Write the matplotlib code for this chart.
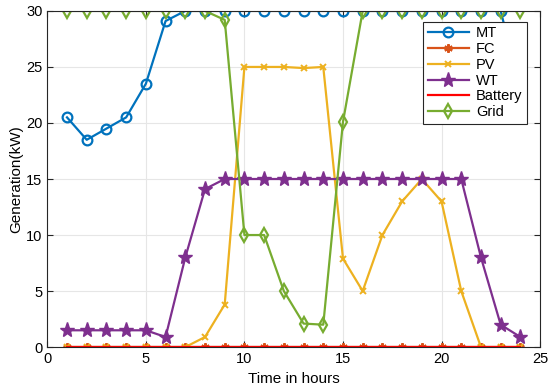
import numpy as np
import matplotlib.pyplot as plt

plt.rcParams['font.family'] = ['Liberation Sans', 'DejaVu Sans']

hours = np.arange(1, 25)
mt = [20.5, 18.5, 19.5, 20.5, 23.5, 29.1, 30, 30, 30, 30, 30, 30,
      30, 30, 30, 30, 30, 30, 30, 30, 30, 30, 30, 23]
fc = [0] * 24
pv = [0, 0, 0, 0, 0, 0, 0, 0.9, 3.8, 25, 25, 25,
      24.9, 25, 7.9, 5, 10, 13, 15, 13, 5, 0, 0, 0]
wt = [1.5, 1.5, 1.5, 1.5, 1.5, 0.9, 8, 14.1, 15, 15, 15, 15,
      15, 15, 15, 15, 15, 15, 15, 15, 15, 8, 2, 0.9]
battery = [0] * 24
grid = [30, 30, 30, 30, 30, 30, 30, 30, 29.2, 10, 10, 5,
        2.1, 2, 20.1, 30, 30, 30, 30, 30, 30, 30, 30, 30]

fig = plt.figure(figsize=(5.5, 3.9), dpi=100)
ax = fig.add_axes([0.086, 0.11, 0.896, 0.862])

ax.plot(hours, mt, color='#0072BD', lw=1.6, marker='o', ms=7, mfc='none', mew=1.6, label='MT')
ax.plot(hours, fc, color='#D95319', lw=1.6, marker=(6, 2, 0), ms=6, mew=1.6, label='FC')
ax.plot(hours, pv, color='#EDB120', lw=1.6, marker='x', ms=5, mew=1.4, label='PV')
ax.plot(hours, wt, color='#7E2F8E', lw=1.6, marker='*', ms=11, label='WT')
ax.plot(hours, battery, color='#FF0000', lw=1.6, label='Battery')
ax.plot(hours, grid, color='#77AC30', lw=1.6, marker='d', ms=7, mfc='none', mew=1.6, label='Grid')

ax.set_xlim(0, 25)
ax.set_ylim(0, 30)
ax.set_xticks([0, 5, 10, 15, 20, 25])
ax.set_yticks([0, 5, 10, 15, 20, 25, 30])
ax.grid(True, color='#e6e6e6', lw=0.8)
ax.tick_params(direction='in', labelsize=10.5, right=True, top=True, length=4, color='#262626')
for s in ax.spines.values():
    s.set_color('#262626')
    s.set_linewidth(0.8)
ax.set_xlabel('Time in hours', fontsize=11)
ax.set_ylabel('Generation(kW)', fontsize=11, labelpad=2)

leg = ax.legend(loc='upper right', bbox_to_anchor=(0.973, 0.967), borderaxespad=0,
                fontsize=10.5, fancybox=False, framealpha=1, edgecolor='#262626',
                handlelength=2.8, borderpad=0.3, labelspacing=0.12, handletextpad=0.5)
leg.get_frame().set_linewidth(0.8)

fig.savefig('out.png', dpi=100)
